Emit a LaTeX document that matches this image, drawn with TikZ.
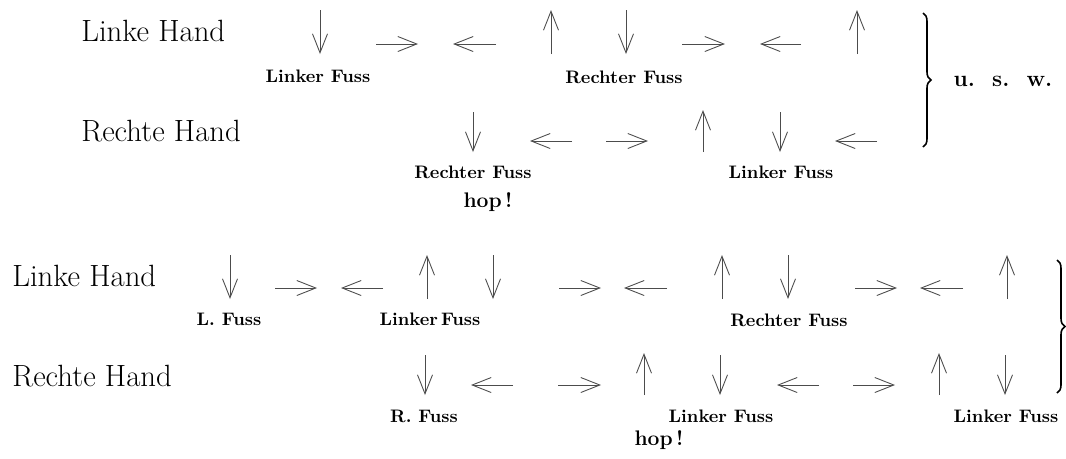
\documentclass[tikz,border=0pt]{standalone}
\usepackage{tikz}
\usetikzlibrary{arrows.meta,decorations.pathreplacing}
\tikzset{
  pfeil/.style={
    draw=black!70,
    line width=0.5pt,
    -{Straight Barb[length=0.38cm,width=0.3cm]}
  },
  hand/.style={
    anchor=west,
    inner sep=0pt,
    font=\fontsize{17.5}{21}\selectfont
  },
  fuss/.style={
    inner sep=0pt,
    font=\fontsize{10.3}{12}\selectfont\bfseries
  },
  hop/.style={
    inner sep=0pt,
    font=\fontsize{12}{14}\selectfont\bfseries
  },
  klammer/.style={
    decorate,
    decoration={brace,amplitude=0.16cm},
    line width=0.9pt
  },
  every picture/.style={x=0.02cm,y=-0.02cm}
}
\begin{document}
\begin{tikzpicture}
    \useasboundingbox (0,0) rectangle (1066,458);
    % erster Teil
    \node[hand] (lh1) at (81,31) {Linke Hand};
    \node[hand] (rh1) at (81,131) {Rechte Hand};
    \draw[pfeil] (320,10)--(320,54);
    \draw[pfeil] (376,44)--(418,44);
    \draw[pfeil] (496,44)--(453,44);
    \draw[pfeil] (551,54)--(551,10);
    \draw[pfeil] (626,10)--(626,54);
    \draw[pfeil] (682,44)--(725,44);
    \draw[pfeil] (801,44)--(760,44);
    \draw[pfeil] (857,54)--(857,10);
    \node[fuss] (lf1) at (318,76) {Linker Fuss};
    \node[fuss] (rf1) at (624,77) {Rechter Fuss};
    \draw[pfeil] (473,112)--(473,152);
    \draw[pfeil] (572,141)--(530,141);
    \draw[pfeil] (606,141)--(648,141);
    \draw[pfeil] (703,152)--(703,110);
    \draw[pfeil] (780,112)--(780,152);
    \draw[pfeil] (877,141)--(835,141);
    \node[fuss] (rf2) at (473,172) {Rechter Fuss};
    \node[hop] (hop1) at (488,202) {hop\,!};
    \node[fuss] (lf2) at (781,172) {Linker Fuss};
    \draw[klammer] (923,13)--(923,147);
    \node[inner sep=0pt,font=\fontsize{13}{15}\selectfont\bfseries] (usw) at (1003,81) {u.\ \ s.\ \ w.};
    % zweiter Teil
    \node[hand] (lh2) at (12,276) {Linke Hand};
    \node[hand] (rh2) at (12,376) {Rechte Hand};
    \draw[pfeil] (230,255)--(230,299);
    \draw[pfeil] (275,288)--(317,288);
    \draw[pfeil] (383,288)--(341,288);
    \draw[pfeil] (427,299)--(427,255);
    \draw[pfeil] (493,255)--(493,299);
    \draw[pfeil] (559,288)--(601,288);
    \draw[pfeil] (667,288)--(624,288);
    \draw[pfeil] (722,299)--(722,255);
    \draw[pfeil] (788,255)--(788,299);
    \draw[pfeil] (855,288)--(897,288);
    \draw[pfeil] (963,288)--(920,288);
    \draw[pfeil] (1007,299)--(1007,255);
    \node[fuss] (lf3) at (229,319) {L. Fuss};
    \node[fuss] (lf4) at (430,319) {Linker\,Fuss};
    \node[fuss] (rf3) at (789,320) {Rechter Fuss};
    \draw[pfeil] (425,355)--(425,395);
    \draw[pfeil] (513,385)--(471,385);
    \draw[pfeil] (558,385)--(601,385);
    \draw[pfeil] (644,395)--(644,353);
    \draw[pfeil] (720,355)--(720,395);
    \draw[pfeil] (819,385)--(777,385);
    \draw[pfeil] (853,385)--(895,385);
    \draw[pfeil] (939,395)--(939,353);
    \draw[pfeil] (1005,355)--(1005,395);
    \node[fuss] (rf4) at (424,416) {R. Fuss};
    \node[fuss] (lf5) at (721,416) {Linker Fuss};
    \node[fuss] (lf6) at (1006,416) {Linker Fuss};
    \node[hop] (hop2) at (659,440) {hop\,!};
    \draw[klammer] (1057,260)--(1057,393);
\end{tikzpicture}
\end{document}
